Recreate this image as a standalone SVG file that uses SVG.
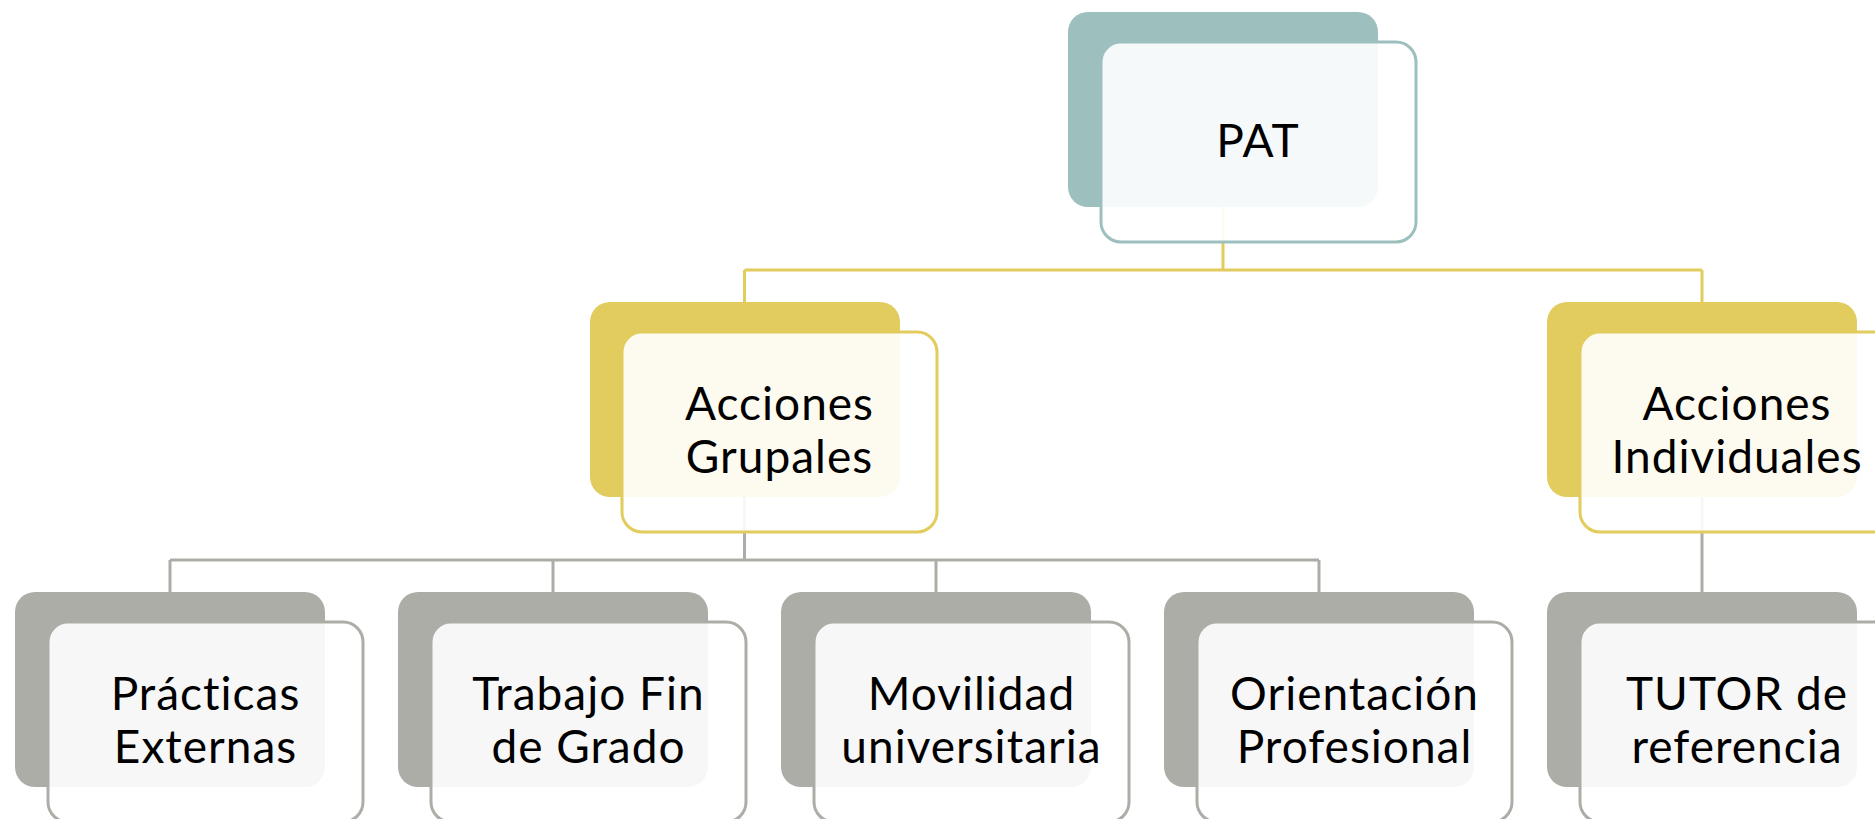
<svg xmlns="http://www.w3.org/2000/svg" width="1875" height="819" viewBox="0 0 1875 819">
<style>
.back{stroke:none}
.front{fill:#ffffff;fill-opacity:0.9;stroke-width:3}
.t{fill:#000;stroke:none}
.teal .back{fill:#9DC0BF}.teal .front{stroke:#9DC0BF}
.yel .back{fill:#E3CC5E}.yel .front{stroke:#E3CC5E}
.gry .back{fill:#ADADA8}.gry .front{stroke:#ADADA8}
text{font-family:Lato,"Noto Sans","Liberation Sans",sans-serif;font-size:46px;letter-spacing:1px;text-anchor:middle}
.cy{stroke:#E3CC5E;stroke-width:3;fill:none}
.cg{stroke:#ADADA8;stroke-width:3;fill:none}
</style>
<rect width="1875" height="819" fill="#ffffff"/>
<g id="connectors">
<path class="cy" d="M1223 207V270M744.5 270H1702M744.5 270V302M1702 270V302"/>
<path class="cg" d="M744.5 497V560M170 560H1319M170 560V592M553 560V592M936 560V592M1319 560V592M1702 497V592"/>
</g>
<g id="pat" class="teal">
<rect class="back" x="1068" y="12" width="310" height="195" rx="20"/>
<rect class="front" x="1101" y="42" width="315" height="200" rx="20"/>
<text x="1258" y="157">PAT</text>
</g>
<g id="acciones-grupales" class="yel">
<rect class="back" x="590" y="302" width="310" height="195" rx="20"/>
<rect class="front" x="622" y="332" width="315" height="200" rx="20"/>
<text x="779.5" y="420">Acciones</text>
<text x="779.5" y="473">Grupales</text>
</g>
<g id="acciones-individuales" class="yel">
<rect class="back" x="1547" y="302" width="310" height="195" rx="20"/>
<rect class="front" x="1580" y="332" width="315" height="200" rx="20"/>
<text x="1737" y="420">Acciones</text>
<text x="1737" y="473">Individuales</text>
</g>
<g id="practicas" class="gry">
<rect class="back" x="15" y="592" width="310" height="195" rx="20"/>
<rect class="front" x="48" y="622" width="315" height="200" rx="20"/>
<text x="205.5" y="710">Prácticas</text>
<text x="205.5" y="763">Externas</text>
</g>
<g id="tfg" class="gry">
<rect class="back" x="398" y="592" width="310" height="195" rx="20"/>
<rect class="front" x="431" y="622" width="315" height="200" rx="20"/>
<text x="588.5" y="710">Trabajo Fin</text>
<text x="588.5" y="763">de Grado</text>
</g>
<g id="movilidad" class="gry">
<rect class="back" x="781" y="592" width="310" height="195" rx="20"/>
<rect class="front" x="814" y="622" width="315" height="200" rx="20"/>
<text x="971.5" y="710">Movilidad</text>
<text x="971.5" y="763">universitaria</text>
</g>
<g id="orientacion" class="gry">
<rect class="back" x="1164" y="592" width="310" height="195" rx="20"/>
<rect class="front" x="1197" y="622" width="315" height="200" rx="20"/>
<text x="1354.5" y="710">Orientación</text>
<text x="1354.5" y="763">Profesional</text>
</g>
<g id="tutor" class="gry">
<rect class="back" x="1547" y="592" width="310" height="195" rx="20"/>
<rect class="front" x="1580" y="622" width="315" height="200" rx="20"/>
<text x="1737" y="710">TUTOR de</text>
<text x="1737" y="763">referencia</text>
</g>
</svg>
